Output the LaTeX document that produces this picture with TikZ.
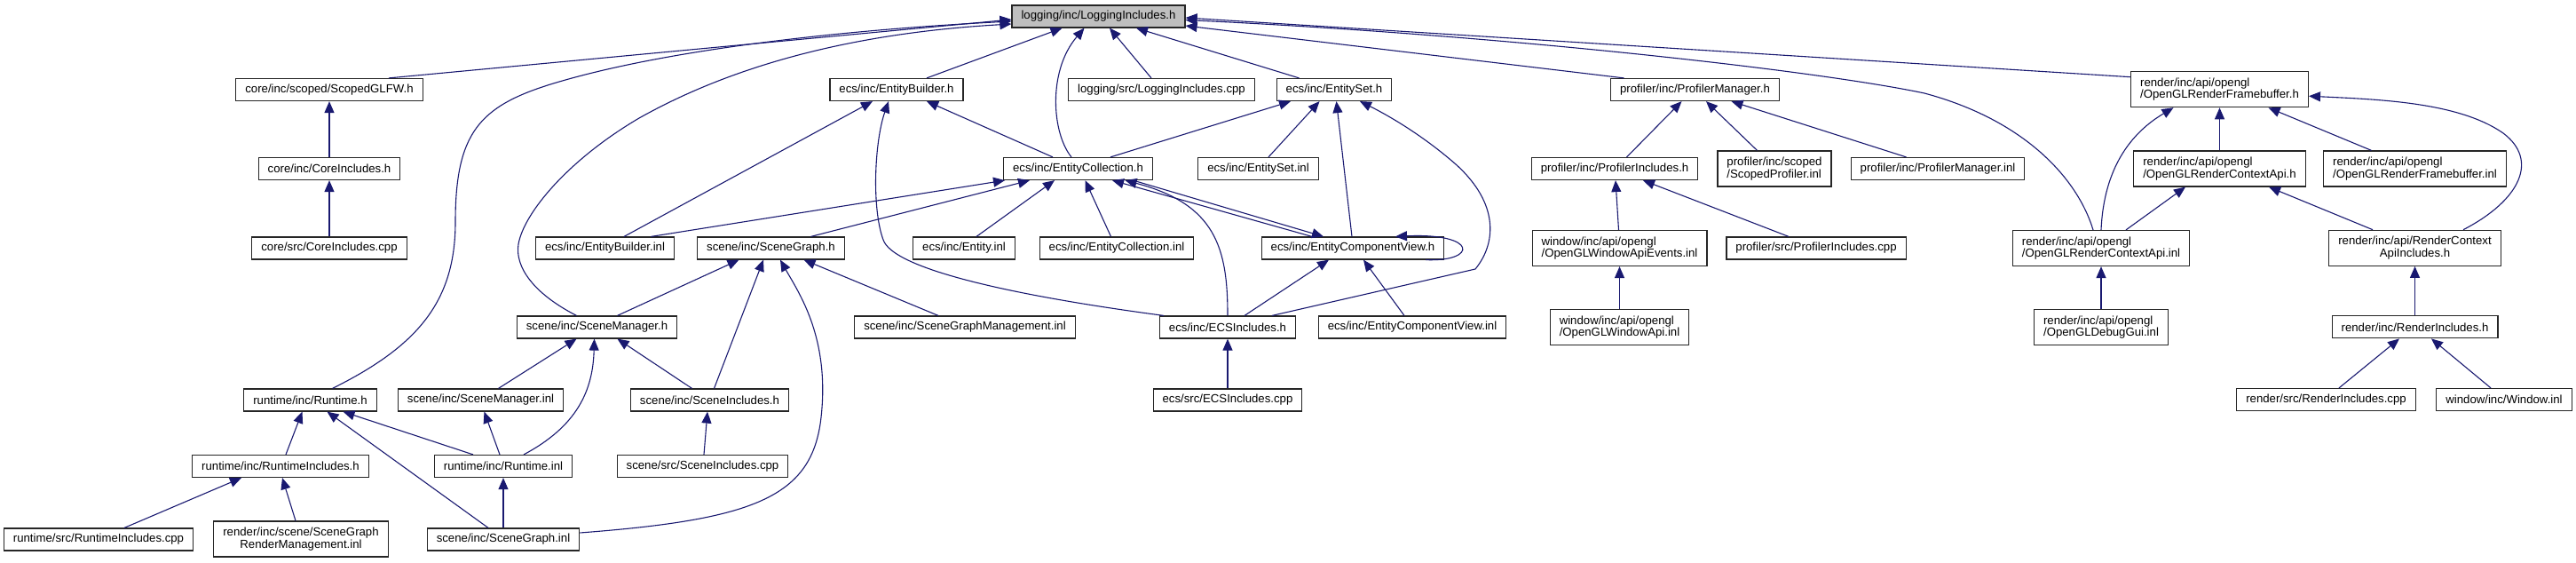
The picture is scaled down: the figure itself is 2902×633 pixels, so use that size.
\documentclass[tikz,border=0pt]{standalone}
\usepackage{fontspec}
\setmainfont{Liberation Sans}
\usepackage{xcolor}
\usepackage{tikz}
\usetikzlibrary{arrows.meta}
\definecolor{incblue}{HTML}{191970}
\definecolor{rootgray}{HTML}{BFBFBF}

\begin{document}
\begin{tikzpicture}[x=1pt, y=-1pt,
    filebox/.style={draw=black!85, line width=1.2pt, fill=white, inner xsep=10.5pt, inner ysep=0pt,
        minimum height=25pt, font=\fontsize{13.2}{13.5}\selectfont},
    filebox2/.style={filebox, minimum height=40pt, align=left},
    filebox2c/.style={filebox, minimum height=40pt, align=center},
    rootbox/.style={filebox, fill=rootgray},
    incl/.style={draw=incblue, line width=1.1pt, -{Triangle[length=13pt,width=11pt]}}]
    \useasboundingbox (0,0) rectangle (2902,633);

    \node[rootbox] (logInc) at (1237.5,18.5) {logging/inc/LoggingIncludes.h};
    % core, runtime
    \node[filebox] (scopedGlfw) at (371,101) {core/inc/scoped/ScopedGLFW.h};
    \node[filebox] (coreInc) at (371,190) {core/inc/CoreIncludes.h};
    \node[filebox] (coreCpp) at (371,279.5) {core/src/CoreIncludes.cpp};
    \node[filebox] (runtimeH) at (349.5,450.5) {runtime/inc/Runtime.h};
    \node[filebox] (runtimeIncH) at (316,525) {runtime/inc/RuntimeIncludes.h};
    \node[filebox] (runtimeIncCpp) at (111,607.5) {runtime/src/RuntimeIncludes.cpp};
    \node[filebox2c] (sgRenderMgmt) at (339,607) {render/inc/scene/SceneGraph\\RenderManagement.inl};
    \node[filebox] (runtimeInl) at (567,525) {runtime/inc/Runtime.inl};
    % scene
    \node[filebox] (sceneMgrInl) at (541.5,450.5) {scene/inc/SceneManager.inl};
    \node[filebox] (sceneGraphInl) at (567,607.5) {scene/inc/SceneGraph.inl};
    \node[filebox] (sceneMgrH) at (672.5,368.5) {scene/inc/SceneManager.h};
    \node[filebox] (sceneGraphH) at (868.5,279.5) {scene/inc/SceneGraph.h};
    \node[filebox] (sceneIncH) at (799.5,450.5) {scene/inc/SceneIncludes.h};
    \node[filebox] (sceneIncCpp) at (791.5,525) {scene/src/SceneIncludes.cpp};
    \node[filebox] (sgMgmtInl) at (1087,368.5) {scene/inc/SceneGraphManagement.inl};
    % ecs, logging
    \node[filebox] (entBuilderH) at (1010,101) {ecs/inc/EntityBuilder.h};
    \node[filebox] (entBuilderInl) at (681.5,279.5) {ecs/inc/EntityBuilder.inl};
    \node[filebox] (entityInl) at (1086,279.5) {ecs/inc/Entity.inl};
    \node[filebox] (entCollH) at (1214.5,190) {ecs/inc/EntityCollection.h};
    \node[filebox] (logCpp) at (1308.5,101) {logging/src/LoggingIncludes.cpp};
    \node[filebox] (entSetH) at (1503,101) {ecs/inc/EntitySet.h};
    \node[filebox] (entSetInl) at (1417.5,190) {ecs/inc/EntitySet.inl};
    \node[filebox] (entCollInl) at (1258,279.5) {ecs/inc/EntityCollection.inl};
    \node[filebox] (ecvH) at (1524,279.5) {ecs/inc/EntityComponentView.h};
    \node[filebox] (ecsIncH) at (1383,368.5) {ecs/inc/ECSIncludes.h};
    \node[filebox] (ecvInl) at (1591,368.5) {ecs/inc/EntityComponentView.inl};
    \node[filebox] (ecsIncCpp) at (1383,450.5) {ecs/src/ECSIncludes.cpp};
    % profiler, window
    \node[filebox] (profMgrH) at (1909.5,101) {profiler/inc/ProfilerManager.h};
    \node[filebox] (profIncH) at (1819,190) {profiler/inc/ProfilerIncludes.h};
    \node[filebox2] (scopedProfInl) at (1999,190) {profiler/inc/scoped\\/ScopedProfiler.inl};
    \node[filebox] (profMgrInl) at (2183,190) {profiler/inc/ProfilerManager.inl};
    \node[filebox2] (winEventsInl) at (1824.5,279.5) {window/inc/api/opengl\\/OpenGLWindowApiEvents.inl};
    \node[filebox] (profIncCpp) at (2046,279.5) {profiler/src/ProfilerIncludes.cpp};
    \node[filebox2] (winApiInl) at (1824.5,368.5) {window/inc/api/opengl\\/OpenGLWindowApi.inl};
    % render
    \node[filebox2] (glFbH) at (2500.5,100.7) {render/inc/api/opengl\\/OpenGLRenderFramebuffer.h};
    \node[filebox2] (glCtxH) at (2500.5,190) {render/inc/api/opengl\\/OpenGLRenderContextApi.h};
    \node[filebox2] (glFbInl) at (2720.5,190) {render/inc/api/opengl\\/OpenGLRenderFramebuffer.inl};
    \node[filebox2] (glCtxInl) at (2367,279.5) {render/inc/api/opengl\\/OpenGLRenderContextApi.inl};
    \node[filebox2c] (ctxApiIncH) at (2720.5,279.3) {render/inc/api/RenderContext\\ApiIncludes.h};
    \node[filebox2] (glDebugInl) at (2367,368.7) {render/inc/api/opengl\\/OpenGLDebugGui.inl};
    \node[filebox] (renderIncH) at (2720.5,368.3) {render/inc/RenderIncludes.h};
    \node[filebox] (renderIncCpp) at (2620.5,450) {render/src/RenderIncludes.cpp};
    \node[filebox] (windowInl) at (2821,450) {window/inc/Window.inl};

    % into the logging header
    \draw[incl] ([xshift=67pt]scopedGlfw.north) -- ([yshift=-3.5pt]logInc.west);
    \draw[incl] ([xshift=25pt]runtimeH.north) .. controls (470,390) and (513,340) .. (513,250)
        .. controls (513,150) and (540,120) .. (620,95) .. controls (760,52) and (980,32) .. ([yshift=-5.5pt]logInc.west);
    \draw[incl] ([xshift=-23pt]sceneMgrH.north) .. controls (600,330) and (580,300) .. (584,275)
        .. controls (590,240) and (640,180) .. (720,133) .. controls (850,60) and (1000,35) .. ([yshift=-8.5pt]logInc.west);
    \draw[incl] ([xshift=34pt]entBuilderH.north) -- ([xshift=-41pt]logInc.south);
    \draw[incl] ([xshift=-7.5pt]entCollH.north) .. controls (1185,150) and (1180,80) .. ([xshift=-16pt]logInc.south);
    \draw[incl] ([xshift=-11.5pt]logCpp.north) -- ([xshift=12.5pt]logInc.south);
    \draw[incl] ([xshift=-39.5pt]entSetH.north) -- ([xshift=42.5pt]logInc.south);
    \draw[incl] ([xshift=-80pt]profMgrH.north) -- ([yshift=-10.5pt]logInc.east);
    \draw[incl] ([yshift=14pt]glFbH.west) -- ([yshift=-1.5pt]logInc.east);
    \draw[incl] ([xshift=-9pt]glCtxInl.north) .. controls (2340,200) and (2280,135) .. (2168,105)
        .. controls (2050,80) and (1700,40) .. ([yshift=-4pt]logInc.east);

    % ecs
    \draw[incl] ([xshift=21.5pt]entBuilderInl.north) -- ([xshift=-27pt]entBuilderH.south);
    \draw[incl] ([xshift=-28.5pt]entCollH.north) -- ([xshift=34pt]entBuilderH.south);
    \draw[incl] ([xshift=-72pt]ecsIncH.north) .. controls (1120,330) and (1005,300) .. (995,270)
        .. controls (982,235) and (985,160) .. ([xshift=-9pt]entBuilderH.south);
    \draw[incl] ([xshift=36.5pt]entCollH.north) -- ([xshift=-49pt]entSetH.south);
    \draw[incl] ([xshift=11.5pt]entSetInl.north) -- ([xshift=-16.5pt]entSetH.south);
    \draw[incl] ([xshift=-1pt]ecvH.north) -- ([xshift=2.5pt]entSetH.south);
    \draw[incl] ([xshift=50pt]ecsIncH.north) -- (1662,303) .. controls (1685,275) and (1690,230) .. (1640,185)
        .. controls (1600,150) and (1560,128) .. ([xshift=29pt]entSetH.south);
    \draw[incl] ([xshift=52pt]entBuilderInl.north) -- ([xshift=2pt]entCollH.south west);
    \draw[incl] ([xshift=45pt]sceneGraphH.north) -- ([xshift=-54.5pt]entCollH.south);
    \draw[incl] ([xshift=14pt]entityInl.north) -- ([xshift=-26.5pt]entCollH.south);
    \draw[incl] ([xshift=-6.5pt]entCollInl.north) -- ([xshift=8pt]entCollH.south);
    \draw[incl] (ecsIncH.north) .. controls (1383,280) and (1370,230) .. ([xshift=53pt]entCollH.south);
    \draw[incl] ([xshift=-46pt]ecvH.north) -- ([xshift=38.5pt]entCollH.south);
    \draw[incl] ([xshift=62pt]entCollH.south) -- ([xshift=-33pt]ecvH.north);
    \draw[incl] ([xshift=82pt]ecvH.south) .. controls (1665,295) and (1665,262) .. ([xshift=48pt]ecvH.north);
    \draw[incl] ([xshift=19pt]ecsIncH.north) -- ([xshift=-27pt]ecvH.south);
    \draw[incl] ([xshift=-9pt]ecvInl.north) -- ([xshift=12pt]ecvH.south);
    \draw[incl] (ecsIncCpp) -- (ecsIncH);

    % scene, runtime, core
    \draw[incl] ([xshift=23pt]sceneMgrH.north) -- ([xshift=-36pt]sceneGraphH.south);
    \draw[incl] ([xshift=5pt]sceneIncH.north) -- ([xshift=-8.5pt]sceneGraphH.south);
    \draw[incl] ([yshift=7.5pt]sceneGraphInl.east) .. controls (850,585) and (915,560) .. (925,470)
        .. controls (935,380) and (900,330) .. ([xshift=10.5pt]sceneGraphH.south);
    \draw[incl] ([xshift=-30pt]sgMgmtInl.north) -- ([xshift=37pt]sceneGraphH.south);
    \draw[incl] ([xshift=20pt]sceneMgrInl.north) -- ([xshift=-23pt]sceneMgrH.south);
    \draw[incl] ([xshift=23pt]runtimeInl.north) .. controls (650,480) and (668,440) .. ([xshift=-3pt]sceneMgrH.south);
    \draw[incl] ([xshift=-20pt]sceneIncH.north) -- ([xshift=23pt]sceneMgrH.south);
    \draw[incl] ([xshift=1.5pt]sceneIncCpp.north) -- ([xshift=-2.5pt]sceneIncH.south);
    \draw[incl] ([xshift=-4pt]runtimeInl.north) -- ([xshift=4pt]sceneMgrInl.south);
    \draw[incl] (sceneGraphInl) -- (runtimeInl);
    \draw[incl] ([xshift=6pt]runtimeIncH.north) -- ([xshift=-9pt]runtimeH.south);
    \draw[incl] ([xshift=-17pt]sceneGraphInl.north) -- ([xshift=19pt]runtimeH.south);
    \draw[incl] ([xshift=-34pt]runtimeInl.north) -- ([xshift=37pt]runtimeH.south);
    \draw[incl] ([xshift=29pt]runtimeIncCpp.north) -- ([xshift=-44pt]runtimeIncH.south);
    \draw[incl] ([xshift=-6pt]sgRenderMgmt.north) -- ([xshift=2pt]runtimeIncH.south);
    \draw[incl] (coreInc) -- (scopedGlfw);
    \draw[incl] (coreCpp) -- (coreInc);

    % profiler, window
    \draw[incl] ([xshift=13.5pt]profIncH.north) -- ([xshift=-15pt]profMgrH.south);
    \draw[incl] ([xshift=-19.5pt]scopedProfInl.north) -- ([xshift=12.5pt]profMgrH.south);
    \draw[incl] ([xshift=-35.5pt]profMgrInl.north) -- ([xshift=41pt]profMgrH.south);
    \draw[incl] ([xshift=-1pt]winEventsInl.north) -- ([xshift=1pt]profIncH.south);
    \draw[incl] ([xshift=-31pt]profIncCpp.north) -- ([xshift=32pt]profIncH.south);
    \draw[incl] (winApiInl) -- (winEventsInl);

    % render
    \draw[incl] (glCtxInl.north) .. controls (2370,190) and (2400,150) .. ([xshift=-52pt]glFbH.south);
    \draw[incl] (glCtxH) -- (glFbH);
    \draw[incl] ([xshift=-49pt]glFbInl.north) -- ([xshift=55pt]glFbH.south);
    \draw[incl] ([xshift=54.5pt]ctxApiIncH.north) .. controls (2840,225) and (2860,180) .. (2820,150)
        .. controls (2770,115) and (2680,112) .. ([yshift=-7.5pt]glFbH.east);
    \draw[incl] ([xshift=28pt]glCtxInl.north) -- ([xshift=-38.5pt]glCtxH.south);
    \draw[incl] ([xshift=-47.5pt]ctxApiIncH.north) -- ([xshift=55.5pt]glCtxH.south);
    \draw[incl] (glDebugInl) -- (glCtxInl);
    \draw[incl] (renderIncH) -- (ctxApiIncH);
    \draw[incl] ([xshift=14.5pt]renderIncCpp.north) -- ([xshift=-17.5pt]renderIncH.south);
    \draw[incl] ([xshift=-15pt]windowInl.north) -- ([xshift=18.5pt]renderIncH.south);
\end{tikzpicture}
\end{document}
